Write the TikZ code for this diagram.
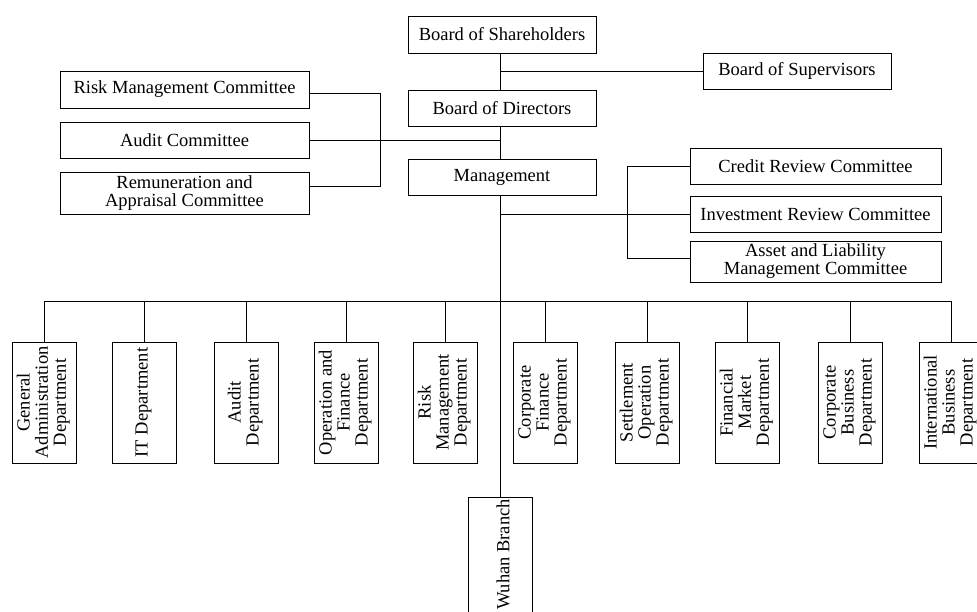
\documentclass[tikz,border=0pt]{standalone}
\usepackage{fontspec}
\setmainfont{Liberation Serif}
\usepackage{graphicx}
\begin{document}
\begin{tikzpicture}[x=1pt,y=-1pt,
  every node/.style={font=\fontsize{18.5}{18}\selectfont},
  hbox/.style={draw, line width=1pt, inner sep=0pt, align=center},
  dept/.style={draw, line width=1pt, inner sep=0pt, minimum width=64pt, minimum height=121pt},
  conn/.style={line width=1pt}]
\useasboundingbox (0,0) rectangle (977,611);
% top column
\node[hbox, minimum width=188pt, minimum height=37pt] (bsh) at (502,34.5) {Board of Shareholders};
\node[hbox, minimum width=188pt, minimum height=36pt] (bsup) at (797,71) {Board of Supervisors};
\node[hbox, minimum width=188pt, minimum height=36pt] (bdir) at (502,108) {Board of Directors};
\node[hbox, minimum width=188pt, minimum height=36pt] (mgmt) at (502,177) {Management};
% left committees
\node[hbox, minimum width=249pt, minimum height=37pt] (rmc) at (184.5,89.5) {Risk Management Committee};
\node[hbox, minimum width=249pt, minimum height=36pt] (ac) at (184.5,140) {Audit Committee};
\node[hbox, minimum width=249pt, minimum height=42pt] (rac) at (184.5,193) {Remuneration and\\Appraisal Committee};
% right committees
\node[hbox, minimum width=251pt, minimum height=36pt] (crc) at (815.5,166) {Credit Review Committee};
\node[hbox, minimum width=251pt, minimum height=36pt] (irc) at (815.5,214) {Investment Review Committee};
\node[hbox, minimum width=251pt, minimum height=41pt] (alm) at (815.5,261.5) {Asset and Liability\\Management Committee};
% departments
\node[dept] (d1) at (44,402.5) {\rotatebox{90}{\begin{tabular}{@{}c@{}}General\\Administration\\Department\end{tabular}}};
\node[dept] (d2) at (144,402.5) {\rotatebox{90}{\begin{tabular}{@{}c@{}}IT Department\end{tabular}}};
\node[dept] (d3) at (246,402.5) {\rotatebox{90}{\begin{tabular}{@{}c@{}}Audit\\Department\end{tabular}}};
\node[dept] (d4) at (346,402.5) {\rotatebox{90}{\begin{tabular}{@{}c@{}}Operation and\\Finance\\Department\end{tabular}}};
\node[dept] (d5) at (445,402.5) {\rotatebox{90}{\begin{tabular}{@{}c@{}}Risk\\Management\\Department\end{tabular}}};
\node[dept] (d6) at (545,402.5) {\rotatebox{90}{\begin{tabular}{@{}c@{}}Corporate\\Finance\\Department\end{tabular}}};
\node[dept] (d7) at (647,402.5) {\rotatebox{90}{\begin{tabular}{@{}c@{}}Settlement\\Operation\\Department\end{tabular}}};
\node[dept] (d8) at (747,402.5) {\rotatebox{90}{\begin{tabular}{@{}c@{}}Financial\\Market\\Department\end{tabular}}};
\node[dept] (d9) at (850,402.5) {\rotatebox{90}{\begin{tabular}{@{}c@{}}Corporate\\Business\\Department\end{tabular}}};
\node[dept] (d10) at (951,402.5) {\rotatebox{90}{\begin{tabular}{@{}c@{}}International\\Business\\Department\end{tabular}}};
% Wuhan branch
\node[dept, minimum height=120pt, anchor=north] (wuhan) at (500,497) {};
\node[rotate=90, anchor=east, inner sep=2pt] (wuhanlbl) at (503,497) {Wuhan Branch};
% helper coordinates
\coordinate (t) at (500,0);
\coordinate (bus) at (0,301);
\coordinate (lbr) at (380,0);
\coordinate (rbr) at (627,0);
\coordinate (rmcE) at ([yshift=-4.2pt]rmc.east);
\coordinate (racE) at ([yshift=7pt]rac.east);
\coordinate (almW) at ([yshift=3.5pt]alm.west);
% trunk
\draw[conn] (bsh.south -| t) -- (bdir.north -| t);
\draw[conn] (bdir.south -| t) -- (mgmt.north -| t);
\draw[conn] (mgmt.south -| t) -- (wuhan.north);
% supervisors
\draw[conn] (bsup.west) -- (bsup.west -| t);
% left committees
\draw[conn] (rmcE) -| (lbr |- racE) -- (racE);
\draw[conn] (ac.east) -- (ac.east -| t);
% right committees
\draw[conn] (irc.west -| t) -- (irc.west);
\draw[conn] (crc.west) -| (rbr |- almW) -- (almW);
% bus to departments
\draw[conn] (d1.north |- bus) -- (d10.north |- bus);
\foreach \d in {d1,d2,d3,d4,d5,d6,d7,d8,d9,d10}
  \draw[conn] (\d.north |- bus) -- (\d.north);
\end{tikzpicture}
\end{document}
